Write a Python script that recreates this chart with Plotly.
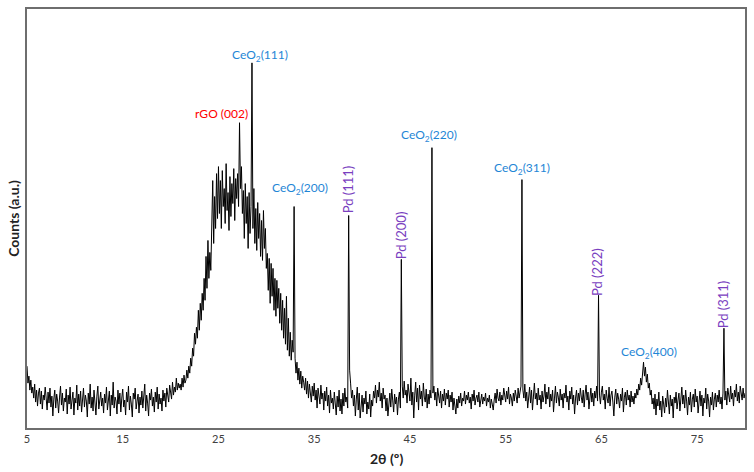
import numpy as np
import plotly.graph_objects as go

# ---- data ----
two_theta_start = 5.0
two_theta_step = 0.1
counts = [
    62, 45, 52, 38, 48, 35, 41, 30, 44, 26, 38, 22, 35, 40, 24, 37, 19, 33, 28, 41,   # 5.0
    30, 18, 36, 25, 40, 21, 32, 12, 29, 38, 20, 34, 27, 15, 31, 42, 23, 35, 17, 30,   # 7.0
    26, 39, 14, 33, 24, 41, 19, 28, 36, 13, 30, 25, 43, 18, 34, 22, 37, 16, 29, 40,   # 9.0
    21, 33, 27, 11, 35, 24, 44, 20, 31, 17, 38, 26, 13, 32, 42, 19, 28, 36, 22, 30,   # 11.0
    15, 34, 25, 41, 18, 29, 37, 12, 33, 23, 46, 20, 31, 27, 14, 38, 24, 35, 16, 30,   # 13.0
    39, 21, 28, 13, 36, 26, 42, 18, 32, 24, 11, 35, 29, 40, 19, 27, 34, 15, 31, 23,   # 15.0
    37, 20, 30, 44, 17, 33, 25, 12, 35, 28, 39, 22, 31, 16, 36, 26, 41, 19, 34, 24,   # 17.0
    30, 17, 38, 27, 35, 21, 40, 31, 26, 43, 34, 29, 46, 33, 41, 36, 50, 38, 45, 40,   # 19.0
    44, 38, 50, 41, 53, 45, 48, 58, 50, 62, 55, 70, 62, 80, 72, 95, 84, 101, 90, 118,  # 21.0
    98, 125, 108, 135, 118, 150, 128, 172, 140, 188, 150, 176, 158, 205, 248, 185, 232, 200, 255, 210,  # 23.0
    262, 215, 248, 200, 258, 222, 240, 205, 265, 218, 236, 198, 252, 212, 245, 225, 260, 208, 250, 230,  # 25.0
    255, 222, 306, 240, 262, 215, 238, 190, 245, 205, 232, 180, 236, 195, 222, 366, 200, 240, 185, 220,  # 27.0
    178, 226, 190, 215, 172, 208, 168, 218, 180, 200, 160, 175, 138, 170, 125, 165, 132, 160, 118, 150,  # 29.0
    112, 148, 120, 140, 105, 135, 98, 128, 90, 120, 84, 132, 78, 110, 72, 96, 68, 88, 76, 222,  # 31.0
    70, 55, 66, 48, 60, 44, 57, 40, 52, 46, 38, 50, 34, 47, 30, 44, 36, 26, 42, 32,   # 33.0
    45, 28, 38, 20, 40, 31, 24, 43, 29, 35, 18, 37, 27, 41, 22, 33, 15, 38, 25, 30,   # 35.0
    19, 36, 24, 13, 32, 21, 38, 17, 29, 14, 35, 22, 40, 26, 31, 20, 213, 58, 45, 30,  # 37.0
    38, 22, 33, 12, 29, 41, 18, 35, 10, 27, 33, 16, 30, 24, 37, 14, 26, 19, 34, 11,   # 39.0
    28, 22, 37, 30, 43, 25, 38, 31, 46, 27, 35, 20, 40, 29, 33, 17, 30, 12, 26, 35,   # 41.0
    21, 39, 28, 16, 34, 24, 31, 13, 29, 36, 20, 169, 42, 30, 47, 33, 38, 25, 44, 31,  # 43.0
    27, 50, 23, 36, 10, 33, 46, 26, 40, 18, 43, 29, 37, 22, 45, 31, 26, 39, 20, 34,   # 45.0
    24, 38, 30, 281, 35, 42, 28, 36, 22, 40, 31, 25, 37, 20, 34, 27, 39, 23, 35, 29,  # 47.0
    38, 21, 33, 26, 36, 18, 30, 24, 14, 29, 20, 32, 25, 35, 22, 30, 27, 37, 24, 33,   # 49.0
    28, 36, 25, 31, 19, 34, 27, 38, 23, 30, 33, 26, 36, 21, 29, 34, 24, 31, 27, 35,   # 51.0
    22, 30, 26, 33, 20, 29, 24, 18, 28, 35, 25, 39, 30, 27, 36, 23, 33, 28, 40, 31,   # 53.0
    26, 37, 29, 41, 24, 34, 30, 22, 35, 27, 38, 32, 25, 40, 30, 36, 42, 249, 38, 30,  # 55.0
    44, 27, 36, 20, 33, 41, 25, 38, 18, 31, 45, 29, 35, 23, 40, 28, 33, 19, 37, 26,   # 57.0
    32, 44, 24, 36, 29, 41, 21, 34, 27, 38, 16, 30, 42, 25, 36, 31, 22, 39, 28, 34,   # 59.0
    20, 35, 30, 43, 26, 32, 18, 37, 29, 41, 24, 33, 14, 30, 38, 23, 35, 27, 40, 31,   # 61.0
    25, 38, 21, 34, 43, 28, 36, 19, 31, 40, 26, 35, 22, 37, 30, 42, 27, 133, 33, 24,  # 63.0
    36, 42, 28, 34, 19, 38, 30, 25, 41, 22, 33, 37, 26, 12, 31, 39, 24, 35, 29, 20,   # 65.0
    34, 27, 40, 16, 31, 36, 23, 38, 28, 33, 21, 37, 26, 32, 24, 35, 30, 39, 33, 44,   # 67.0
    38, 50, 43, 58, 66, 52, 61, 46, 54, 40, 45, 33, 38, 24, 30, 19, 34, 13, 29, 22,   # 69.0
    36, 18, 27, 11, 32, 24, 15, 30, 21, 38, 26, 14, 33, 22, 29, 10, 31, 25, 36, 19,   # 71.0
    28, 35, 17, 30, 41, 24, 33, 20, 38, 27, 13, 31, 23, 36, 16, 29, 34, 21, 39, 26,   # 73.0
    32, 15, 28, 37, 22, 33, 12, 30, 25, 40, 19, 34, 27, 11, 31, 23, 36, 18, 29, 35,   # 75.0
    21, 33, 26, 38, 24, 31, 19, 35, 100, 28, 37, 23, 40, 30, 26, 42, 29, 35, 22, 38,  # 77.0
    31, 44, 27, 36, 25, 42, 33, 28, 40, 30, 35,                                        # 79.0
]
assert len(counts) == 751, len(counts)

tick_vals = [5, 15, 25, 35, 45, 55, 65, 75]

peak_labels = ["rGO (002)", "CeO<sub>2</sub>(111)", "CeO<sub>2</sub>(200)", "Pd (111)",
               "Pd (200)", "CeO<sub>2</sub>(220)", "CeO<sub>2</sub>(311)", "Pd (222)",
               "CeO<sub>2</sub>(400)", "Pd (311)"]
label_x = [25.36, 29.35, 33.55, 38.5, 44.15, 47.03, 56.7, 64.6, 70.0, 77.7]
label_y = [315, 373, 240, 239, 193, 293, 260, 156, 76, 124]
label_kind = ["rgo", "ceo2", "ceo2", "pd", "pd", "ceo2", "ceo2", "pd", "ceo2", "pd"]

# ---- figure ----
two_theta = np.round(two_theta_start + two_theta_step * np.arange(len(counts)), 1)

fig = go.Figure()
fig.add_trace(go.Scatter(x=two_theta, y=counts, mode="lines",
                         line=dict(color="black", width=1), showlegend=False,
                         hoverinfo="skip"))

colors = {"rgo": "#ff0000", "ceo2": "#1f86d6", "pd": "#7a3fbf"}
for txt, lx, ly, kind in zip(peak_labels, label_x, label_y, label_kind):
    fig.add_annotation(x=lx, y=ly, xref="x", yref="y", text=txt, showarrow=False,
                       textangle=-90 if kind == "pd" else 0,
                       font=dict(family="Lato", size=13 if kind == "pd" else 12,
                                 color=colors[kind]),
                       xanchor="center", yanchor="middle")

fig.add_annotation(x=0.5, y=-0.072, xref="paper", yref="paper", text="<b>2θ (º)</b>",
                   showarrow=False, font=dict(family="Lato", size=14, color="#222"),
                   xanchor="center", yanchor="middle")
fig.add_annotation(x=-0.019, y=0.5, xref="paper", yref="paper", text="<b>Counts (a.u.)</b>",
                   showarrow=False, textangle=-90,
                   font=dict(family="Lato", size=14, color="#222"),
                   xanchor="center", yanchor="middle")

fig.update_layout(
    width=754, height=472,
    margin=dict(l=27, r=7, t=8, b=44),
    paper_bgcolor="white", plot_bgcolor="white",
    font=dict(family="Lato", color="#404040"),
    xaxis=dict(range=[5, 80], tickvals=tick_vals, ticks="", showgrid=False,
               zeroline=False, showline=True, linecolor="#6e6e6e", linewidth=1.5,
               mirror=True, tickfont=dict(size=11, color="#404040")),
    yaxis=dict(range=[0, 420], showticklabels=False, ticks="", showgrid=False,
               zeroline=False, showline=True, linecolor="#6e6e6e", linewidth=1.5,
               mirror=True),
)

fig.write_html("out.html", config={"displayModeBar": False},
               post_script="document.body.style.margin='0';document.body.style.overflow='hidden';")
